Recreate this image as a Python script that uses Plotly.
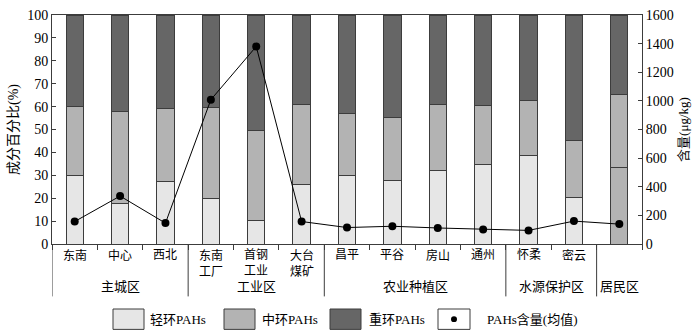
import plotly.graph_objects as go

categories = ["东南", "中心", "西北", "东南<br>工厂", "首钢<br>工业", "大台<br>煤矿",
              "昌平", "平谷", "房山", "通州", "怀柔", "密云", " "]
light_pct = [30.0, 17.7, 27.4, 19.7, 10.4, 25.8, 30.0, 27.8, 31.9, 34.8, 38.7, 20.1, 33.5]
mid_pct = [30.2, 40.1, 31.9, 40.0, 39.0, 35.2, 27.1, 27.5, 29.0, 25.6, 23.9, 24.9, 32.0]
heavy_pct = [39.8, 42.2, 40.7, 40.3, 50.6, 39.0, 42.9, 44.7, 39.1, 39.6, 37.4, 55.0, 34.5]
pahs_content = [157, 335, 146, 1008, 1380, 157, 115, 124, 112, 101, 95, 160, 139]

groups = ["主城区", "工业区", "农业种植区", "水源保护区", "居民区"]
group_sizes = [3, 3, 4, 2, 1]

legend_labels = ["轻环PAHs", "中环PAHs", "重环PAHs", "PAHs含量(均值)"]

C_LIGHT, C_MID, C_DARK = "#e6e6e6", "#b3b3b3", "#666666"
EDGE = "#3c3c3c"
FONT = "Liberation Serif, Noto Sans CJK SC"

W, H = 700, 333
L, R, T, B = 52, 642, 8, 244
PW, PH = R - L, B - T

def px(x):
    return (x - L) / PW

def py(y):
    return (B - y) / PH

light_colors = [C_LIGHT] * (len(categories) - 1) + [C_MID]

fig = go.Figure()
fig.add_bar(x=categories, y=light_pct, marker=dict(color=light_colors, line=dict(color=EDGE, width=1)),
            width=0.38, name=legend_labels[0])
fig.add_bar(x=categories, y=mid_pct, marker=dict(color=C_MID, line=dict(color=EDGE, width=1)),
            width=0.38, name=legend_labels[1])
fig.add_bar(x=categories, y=heavy_pct, marker=dict(color=C_DARK, line=dict(color=EDGE, width=1)),
            width=0.38, name=legend_labels[2])
fig.add_scatter(x=categories, y=pahs_content, yaxis="y2", mode="lines+markers",
                line=dict(color="black", width=1), marker=dict(color="black", size=8),
                name=legend_labels[3])

shapes = []
annotations = []

# category labels
for cat in categories:
    if cat.strip():
        annotations.append(dict(text=cat, xref="x", yref="paper", x=cat, y=py(246),
                                showarrow=False, xanchor="center", yanchor="top", align="center",
                                font=dict(size=12, family=FONT, color="black")))

# group divider lines and group labels
div_bottom = py(298)
start = 0
shapes.append(dict(type="line", xref="x", yref="paper", x0=-0.5, x1=-0.5, y0=0, y1=div_bottom,
                   line=dict(color=EDGE, width=1)))
for g, n in zip(groups, group_sizes):
    end = start + n
    if end < len(categories):
        shapes.append(dict(type="line", xref="x", yref="paper", x0=end - 0.5, x1=end - 0.5,
                           y0=0, y1=div_bottom, line=dict(color=EDGE, width=1)))
    annotations.append(dict(text=g, xref="x", yref="paper", x=(start + end - 1) / 2, y=py(288),
                            showarrow=False, font=dict(size=13, family=FONT, color="black"),
                            xanchor="center", yanchor="middle"))
    start = end

# manual legend
boxes = [(113, 144, C_LIGHT), (224, 255, C_MID), (330, 361, C_DARK), (438, 470, "white")]
text_x = [148, 260, 367, 485]
ly0, ly1 = 311, 332
for (x0, x1, col), tx, lab in zip(boxes, text_x, legend_labels):
    shapes.append(dict(type="rect", xref="paper", yref="paper", x0=px(x0), x1=px(x1),
                       y0=py(ly1), y1=py(ly0), fillcolor=col, line=dict(color=EDGE, width=1)))
    annotations.append(dict(text=lab, xref="paper", yref="paper", x=px(tx), y=py((ly0 + ly1) / 2),
                            showarrow=False, xanchor="left", yanchor="middle",
                            font=dict(size=13, family=FONT, color="black")))
cx, cy, r = 454, (ly0 + ly1) / 2, 3
shapes.append(dict(type="circle", xref="paper", yref="paper", x0=px(cx - r), x1=px(cx + r),
                   y0=py(cy + r), y1=py(cy - r), fillcolor="black", line=dict(color="black", width=0)))

fig.update_layout(
    width=W, height=H,
    margin=dict(l=L, r=W - R, t=T, b=H - B),
    barmode="stack",
    showlegend=False,
    plot_bgcolor="white", paper_bgcolor="white",
    font=dict(family=FONT, size=13, color="black"),
    shapes=shapes, annotations=annotations,
    xaxis=dict(type="category", tickson="boundaries", ticks="outside", ticklen=5,
               tickcolor=EDGE, showline=True, linecolor=EDGE, linewidth=1, mirror=True,
               showgrid=False, showticklabels=False, range=[-0.5, len(categories) - 0.5]),
    yaxis=dict(range=[0, 100], tickmode="array", tickvals=list(range(0, 101, 10)),
               ticks="inside", ticklen=4, tickcolor=EDGE,
               showline=True, linecolor=EDGE, linewidth=1, showgrid=False, zeroline=False,
               tickfont=dict(size=14),
               title=dict(text="成分百分比(%)", font=dict(size=14), standoff=5)),
    yaxis2=dict(range=[0, 1600], tickmode="array", tickvals=list(range(0, 1601, 200)),
                overlaying="y", side="right", ticks="inside",
                ticklen=4, tickcolor=EDGE, showline=True, linecolor=EDGE, linewidth=1,
                showgrid=False, zeroline=False, tickfont=dict(size=14),
                title=dict(text="含量(μg/kg)", font=dict(size=13), standoff=6)),
)

fig.write_html("out.html")
